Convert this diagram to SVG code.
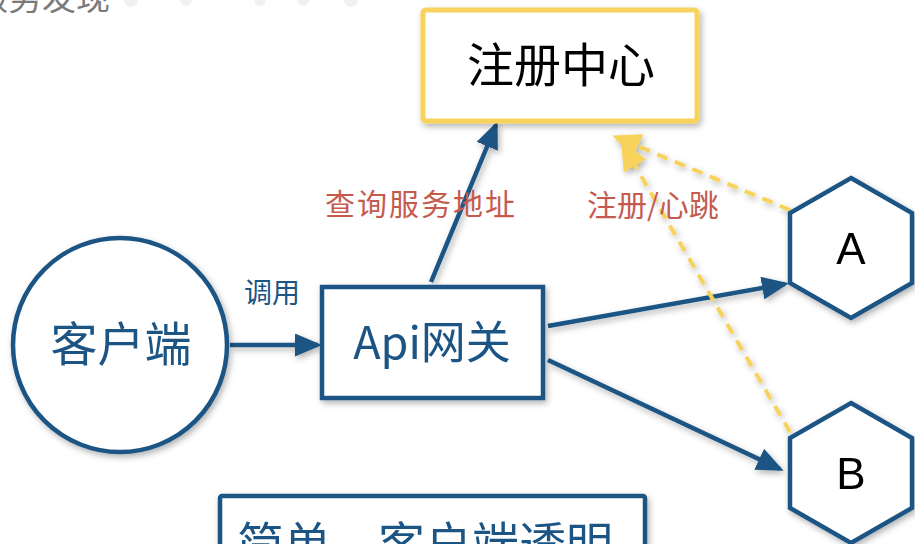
<svg xmlns="http://www.w3.org/2000/svg" width="915" height="544" viewBox="0 0 915 544">
<style>
.cjk{font-family:"Noto Sans CJK SC","Noto Sans",sans-serif}
.node{fill:#fff;stroke:#1A5584;stroke-width:4.5}
.blue{stroke:#1A5584;stroke-width:4.5;fill:none}
.yel{stroke:#F7D35C;stroke-width:4;fill:none;stroke-dasharray:11 8}
.red{fill:#C55A4E;font-size:30px}
</style>
<defs>
<filter id="sh" x="-20%" y="-20%" width="140%" height="140%">
<feDropShadow dx="2" dy="3" stdDeviation="3" flood-color="#000" flood-opacity="0.3"/>
</filter>
<marker id="ay" markerWidth="28" markerHeight="26" refX="24" refY="13" orient="auto" markerUnits="userSpaceOnUse" viewBox="0 0 28 26">
<path d="M0,0 L28,13 L0,26 z" fill="#F7D35C"/>
</marker>
<marker id="abl" markerWidth="27" markerHeight="23" refX="23" refY="11.5" orient="auto" markerUnits="userSpaceOnUse" viewBox="0 0 27 23">
<path d="M0,0 L27,11.5 L0,23 z" fill="#1A5584"/>
</marker>
</defs>
<g id="header">
<text x="-26" y="10" class="cjk" font-size="34" fill="#7a7a7a">服务发现</text>
<g fill="#f1f1f1">
<circle cx="131" cy="0" r="7"/><circle cx="186" cy="0" r="6"/><circle cx="260" cy="0" r="6"/><circle cx="303" cy="0" r="6"/><circle cx="351" cy="0" r="7"/>
</g>
</g>
<g id="connectors" filter="url(#sh)">
<line x1="230" y1="345" x2="318" y2="345" class="blue" marker-end="url(#abl)"/>
<line x1="431" y1="282" x2="496" y2="125" class="blue" marker-end="url(#abl)"/>
<line x1="548" y1="326" x2="785" y2="284" class="blue" marker-end="url(#abl)"/>
<line x1="548" y1="360" x2="780" y2="469" class="blue" marker-end="url(#abl)"/>
<line x1="790" y1="210" x2="616" y2="137" class="yel" marker-end="url(#ay)"/>
<line x1="790" y1="432" x2="623" y2="145" class="yel" marker-end="url(#ay)"/>
</g>
<g id="labels" class="cjk">
<text x="272" y="303" font-size="28" fill="#1A5584" text-anchor="middle">调用</text>
<text x="420" y="215" class="red" text-anchor="middle" textLength="190">查询服务地址</text>
<text x="653" y="216" class="red" text-anchor="middle">注册/心跳</text>
</g>
<g id="registry" filter="url(#sh)">
<rect x="423" y="10" width="274" height="111" rx="3" fill="#fff" stroke="#F7D35C" stroke-width="5"/>
<text x="561" y="82" class="cjk" font-size="47" text-anchor="middle">注册中心</text>
</g>
<g id="client" filter="url(#sh)">
<circle cx="120" cy="345" r="107" class="node"/>
<text x="121" y="361" class="cjk" font-size="47" fill="#1A5584" text-anchor="middle">客户端</text>
</g>
<g id="gateway" filter="url(#sh)">
<rect x="322" y="287" width="221" height="111" class="node"/>
<text x="432" y="359" class="cjk" font-size="45" fill="#1A5584" text-anchor="middle">Api网关</text>
</g>
<g id="nodeA" filter="url(#sh)">
<polygon points="851,178 912,213 912,283 851,318 790,283 790,213" class="node"/>
<text x="851" y="264" font-family="Liberation Sans,Arial,sans-serif" font-size="44" text-anchor="middle">A</text>
</g>
<g id="nodeB" filter="url(#sh)">
<polygon points="851,403 912,438 912,508 851,543 790,508 790,438" class="node"/>
<text x="851" y="489" font-family="Liberation Sans,Arial,sans-serif" font-size="44" text-anchor="middle">B</text>
</g>
<g id="summary" filter="url(#sh)">
<rect x="220" y="496" width="425" height="80" rx="2" class="node"/>
<text x="425" y="561" class="cjk" font-size="47" fill="#1A5584" text-anchor="middle">简单，客户端透明</text>
</g>
</svg>
